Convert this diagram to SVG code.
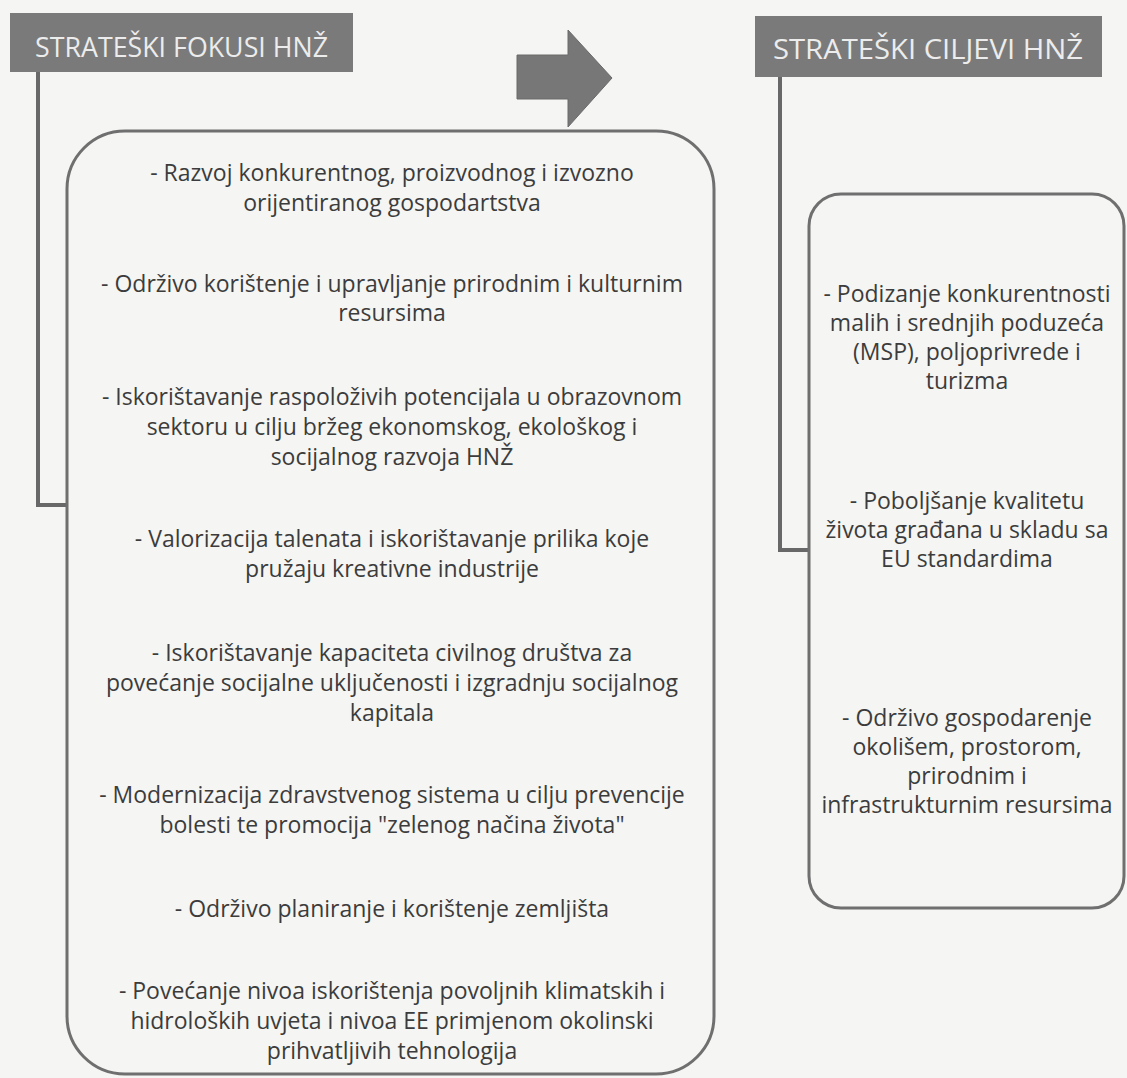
<svg xmlns="http://www.w3.org/2000/svg" width="1127" height="1078" viewBox="0 0 1127 1078">
<style>
.bg{fill:#f5f5f3}
.hdr{fill:#7a7a7a}
.hdrt{font-family:"Open Sans","Noto Sans",sans-serif;font-size:28px;fill:#ececec}
.box{fill:none;stroke:#6f6f6f;stroke-width:3}
.conn{fill:none;stroke:#686868;stroke-width:4}
.t{font-family:"Open Sans","Noto Sans",sans-serif;font-size:23px;fill:#3c3c3c;text-anchor:middle}
.arrow{fill:#777;stroke:#6a6a6a;stroke-width:1}
</style>
<rect class="bg" x="0" y="0" width="1127" height="1078"/>
<g id="connectors">
<polyline class="conn" points="38,72 38,505 67,505"/>
<polyline class="conn" points="780,77 780,550 809,550"/>
</g>
<g id="arrow">
<polygon class="arrow" points="517,55 568,55 568,30 612,78 568,127 568,99 517,99"/>
</g>
<g id="header-left">
<rect class="hdr" x="10" y="13" width="343" height="59"/>
<text class="hdrt" x="35" y="57" textLength="293" lengthAdjust="spacingAndGlyphs">STRATEŠKI FOKUSI HNŽ</text>
</g>
<g id="header-right">
<rect class="hdr" x="755" y="16" width="347" height="61"/>
<text class="hdrt" x="773" y="59" textLength="310" lengthAdjust="spacingAndGlyphs">STRATEŠKI CILJEVI HNŽ</text>
</g>
<g id="box-left">
<rect class="box" x="67" y="131" width="647" height="943" rx="58" ry="58"/>
<text class="t" x="392" y="181">- Razvoj konkurentnog, proizvodnog i izvozno</text>
<text class="t" x="392" y="211">orijentiranog gospodartstva</text>
<text class="t" x="392" y="292">- Održivo korištenje i upravljanje prirodnim i kulturnim</text>
<text class="t" x="392" y="321">resursima</text>
<text class="t" x="392" y="405">- Iskorištavanje raspoloživih potencijala u obrazovnom</text>
<text class="t" x="392" y="435">sektoru u cilju bržeg ekonomskog, ekološkog i</text>
<text class="t" x="392" y="465">socijalnog razvoja HNŽ</text>
<text class="t" x="392" y="547">- Valorizacija talenata i iskorištavanje prilika koje</text>
<text class="t" x="392" y="577">pružaju kreativne industrije</text>
<text class="t" x="392" y="661">- Iskorištavanje kapaciteta civilnog društva za</text>
<text class="t" x="392" y="691">povećanje socijalne uključenosti i izgradnju socijalnog</text>
<text class="t" x="392" y="721">kapitala</text>
<text class="t" x="392" y="803">- Modernizacija zdravstvenog sistema u cilju prevencije</text>
<text class="t" x="392" y="833">bolesti te promocija "zelenog načina života"</text>
<text class="t" x="392" y="917">- Održivo planiranje i korištenje zemljišta</text>
<text class="t" x="392" y="999">- Povećanje nivoa iskorištenja povoljnih klimatskih i</text>
<text class="t" x="392" y="1029">hidroloških uvjeta i nivoa EE primjenom okolinski</text>
<text class="t" x="392" y="1059">prihvatljivih tehnologija</text>
</g>
<g id="box-right">
<rect class="box" x="809" y="194" width="315" height="714" rx="32" ry="32"/>
<text class="t" x="967" y="302">- Podizanje konkurentnosti</text>
<text class="t" x="967" y="331">malih i srednjih poduzeća</text>
<text class="t" x="967" y="360">(MSP), poljoprivrede i</text>
<text class="t" x="967" y="389">turizma</text>
<text class="t" x="967" y="509">- Poboljšanje kvalitetu</text>
<text class="t" x="967" y="538">života građana u skladu sa</text>
<text class="t" x="967" y="567">EU standardima</text>
<text class="t" x="967" y="726">- Održivo gospodarenje</text>
<text class="t" x="967" y="755">okolišem, prostorom,</text>
<text class="t" x="967" y="784">prirodnim i</text>
<text class="t" x="967" y="813">infrastrukturnim resursima</text>
</g>
</svg>
